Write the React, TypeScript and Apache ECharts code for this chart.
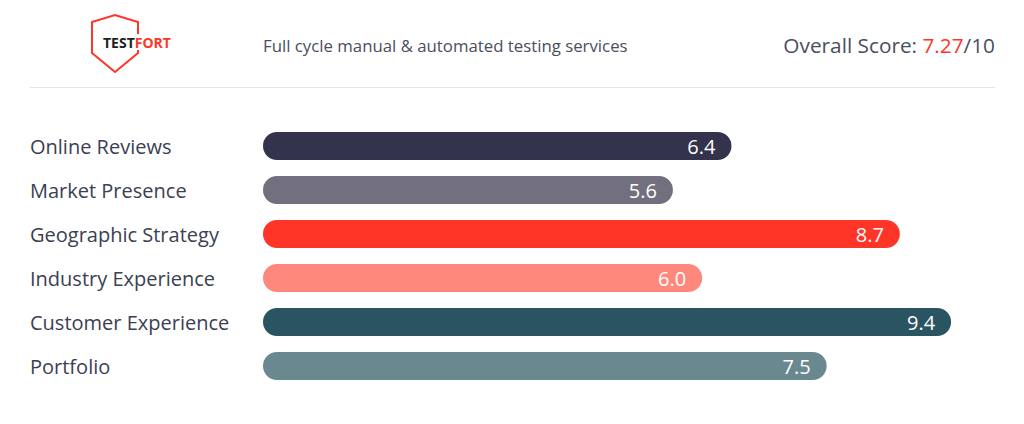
import React, { useEffect, useRef } from "react";
import * as echarts from "echarts";

const categories = [
  "Online Reviews",
  "Market Presence",
  "Geographic Strategy",
  "Industry Experience",
  "Customer Experience",
  "Portfolio",
];
// bar lengths as drawn in the picture
const values = [6.4, 5.6, 8.7, 6.0, 9.4, 7.7];
// scores as printed on the bars
const valueLabels = ["6.4", "5.6", "8.7", "6.0", "9.4", "7.5"];
const barColors = ["#33334b", "#72707e", "#ff3527", "#ff887c", "#2a5461", "#6a8890"];
const subtitle = "Full cycle manual & automated testing services";
const overallScore = "7.27";
const scoreMax = "10";

export default function App() {
  const ref = useRef<HTMLDivElement>(null);
  useEffect(() => {
    if (!ref.current) return;
    const chart = echarts.init(ref.current, null, { renderer: "svg" });
    const font = "'Open Sans', sans-serif";
    chart.setOption({
      animation: false,
      backgroundColor: "#ffffff",
      grid: { left: 263, right: 29, top: 124, height: 264, containLabel: false },
      xAxis: {
        type: "value",
        min: 0,
        max: 10,
        show: false,
      },
      yAxis: {
        type: "category",
        data: categories,
        inverse: true,
        axisLine: { show: false },
        axisTick: { show: false },
        splitLine: { show: false },
        axisLabel: {
          align: "left",
          margin: 233,
          color: "#3b4052",
          fontSize: 20,
          fontFamily: font,
        },
      },
      series: [
        {
          type: "bar",
          data: values.map((v, i) => ({ value: v, itemStyle: { color: barColors[i] } })),
          barWidth: 28,
          itemStyle: { borderRadius: 14 },
          label: {
            show: true,
            position: "insideRight",
            distance: 16,
            color: "#ffffff",
            fontSize: 20,
            fontFamily: font,
            formatter: (p: any) => valueLabels[p.dataIndex],
          },
        },
      ],
      graphic: [
        {
          type: "polygon",
          shape: {
            points: [
              [92, 22],
              [115, 15],
              [138, 22],
              [138, 53],
              [115, 72],
              [92, 53],
            ],
          },
          style: { fill: "none", stroke: "#ff3527", lineWidth: 2 },
        },
        {
          type: "rect",
          shape: { x: 101, y: 34, width: 72, height: 16 },
          style: { fill: "#ffffff" },
        },
        {
          type: "text",
          x: 103,
          y: 42,
          style: {
            text: "{a|TEST}{b|FORT}",
            verticalAlign: "middle",
            rich: {
              a: { fontSize: 14, fontWeight: "bold", fill: "#1e1e24", fontFamily: font },
              b: { fontSize: 14, fontWeight: "bold", fill: "#ff3527", fontFamily: font },
            },
          },
        },
        {
          type: "text",
          x: 263,
          y: 45,
          style: {
            text: subtitle,
            fontSize: 16.8,
            fill: "#4a4e5e",
            fontFamily: font,
            verticalAlign: "middle",
          },
        },
        {
          type: "text",
          x: 995,
          y: 45,
          style: {
            text: `{a|Overall Score: }{b|${overallScore}}{a|/${scoreMax}}`,
            align: "right",
            verticalAlign: "middle",
            rich: {
              a: { fontSize: 20.8, fill: "#4a4e5e", fontFamily: font },
              b: { fontSize: 20.8, fill: "#ff3527", fontFamily: font },
            },
          },
        },
        {
          type: "line",
          shape: { x1: 30, y1: 87.5, x2: 995, y2: 87.5 },
          style: { stroke: "#e4e4e8", lineWidth: 1 },
        },
      ],
    });
    return () => chart.dispose();
  }, []);
  return (
    <div
      ref={ref}
      style={{ position: "fixed", left: 0, top: 0, width: 1024, height: 424 }}
    />
  );
}
